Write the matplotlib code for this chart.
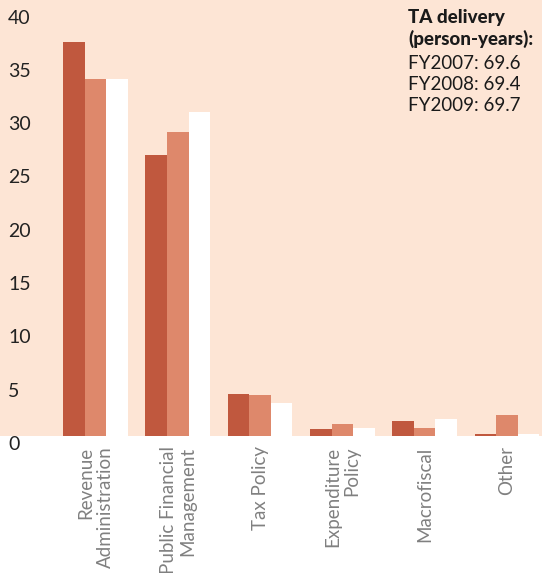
import matplotlib
matplotlib.use("Agg")
import matplotlib.pyplot as plt
import numpy as np
from matplotlib.transforms import ScaledTranslation

plt.rcParams["font.family"] = ["Lato", "DejaVu Sans"]

categories = ["Revenue\nAdministration", "Public Financial\nManagement", "Tax Policy",
              "Expenditure\nPolicy", "Macrofiscal", "Other"]
fy2007 = [37.0, 26.4, 3.9, 0.65, 1.4, 0.2]
fy2008 = [33.5, 28.5, 3.85, 1.15, 0.75, 2.0]
fy2009 = [33.5, 30.4, 3.1, 0.75, 1.6, 0.2]
totals = {"FY2007": 69.6, "FY2008": 69.4, "FY2009": 69.7}
yticks = list(range(0, 41, 5))

BG = "#FDE5D5"
colors = ["#C0583E", "#DE886B", "#FFFFFF"]

fig = plt.figure(figsize=(5.42, 5.73), dpi=100)
ax = fig.add_axes([0, 137 / 573, 1, 436 / 573])
ax.set_facecolor(BG)

x = np.arange(len(categories))
w = 0.262
for i, (vals, c) in enumerate(zip([fy2007, fy2008, fy2009], colors)):
    ax.bar(x + (i - 1) * w, vals, w, color=c, linewidth=0)

ax.set_xlim(-1.16, 5.425)
ax.set_ylim(0, 40.9)
for s in ax.spines.values():
    s.set_visible(False)

# y labels sit inside the panel, a little below their value
ax.set_yticks(yticks)
ax.tick_params(axis="y", length=0, pad=-5.8, labelsize=14, labelcolor="#222222")
for lab in ax.get_yticklabels():
    lab.set_horizontalalignment("left")
    lab.set_transform(lab.get_transform() + ScaledTranslation(0, -0.07, fig.dpi_scale_trans))

ax.set_xticks(x)
ax.set_xticklabels(categories, rotation=90, va="top", ha="center",
                   multialignment="right", fontsize=13.5, color="#808080", linespacing=1.15)
ax.tick_params(axis="x", length=0, pad=7.5)

lines = ["FY2007: %.1f" % totals["FY2007"], "FY2008: %.1f" % totals["FY2008"],
         "FY2009: %.1f" % totals["FY2009"]]
ax.text(408 / 542, 1 - 9 / 436, "TA delivery\n(person-years):", transform=ax.transAxes,
        fontsize=13.5, fontweight="black", color="#1a1a1a", va="top", ha="left", linespacing=1.25)
ax.text(408 / 542, 1 - 55 / 436, "\n".join(lines), transform=ax.transAxes,
        fontsize=13.5, color="#1a1a1a", va="top", ha="left", linespacing=1.3)

fig.savefig("out.png", dpi=100, facecolor="white")
